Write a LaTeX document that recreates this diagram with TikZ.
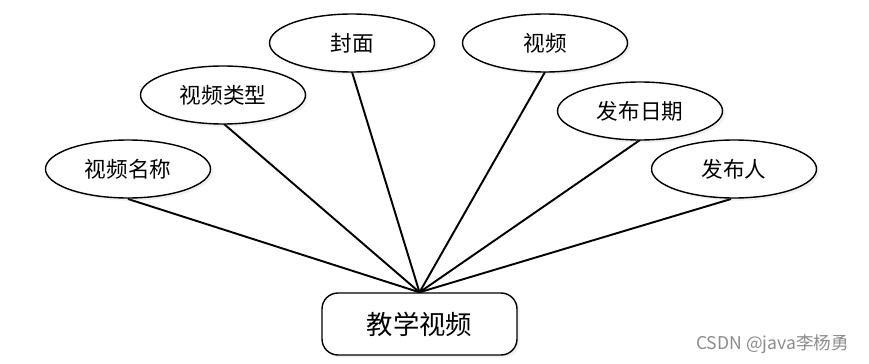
\documentclass[tikz,border=0pt]{standalone}
\usepackage{fontspec}
\setmainfont{Noto Sans CJK SC}
\usetikzlibrary{shapes.geometric, shadows, positioning}

\begin{document}
\begin{tikzpicture}[
    attr/.style={ellipse, draw=black, line width=0.8pt, fill=white, minimum width=3.3cm, minimum height=1.16cm, font=\fontsize{12.3}{13}\selectfont, drop shadow={opacity=0.12, shadow xshift=1.5pt, shadow yshift=-1.5pt}},
    entity/.style={rectangle, rounded corners=0.32cm, draw=black, line width=0.8pt, fill=white, minimum width=3.9cm, minimum height=1.24cm, font=\fontsize{15}{16}\selectfont, drop shadow={opacity=0.12, shadow xshift=1.5pt, shadow yshift=-1.5pt}},
    link/.style={line width=1.1pt, draw=black}
]
\useasboundingbox (0,0) rectangle (17.38,-7.28);

\node (entity) [entity] at (8.39,-6.48) {教学视频};

\draw [link] (2.56,-3.98) -- (entity.north);
\draw [link] (4.48,-2.48) -- (entity.north);
\draw [link] (7.04,-1.44) -- (entity.north);
\draw [link] (10.90,-1.44) -- (entity.north);
\draw [link] (12.80,-2.80) -- (entity.north);
\draw [link] (14.62,-3.98) -- (entity.north);

\node (name) [attr] at (2.56,-3.38) {视频名称};
\node (type) [attr] at (4.46,-1.90) {视频类型};
\node (cover) [attr] at (7.04,-0.86) {封面};
\node (video) [attr] at (10.90,-0.86) {视频};
\node (date) [attr] at (12.80,-2.22) {发布日期};
\node (author) [attr] at (14.68,-3.38) {发布人};

\node (mark) [text=black!45, font=\fontsize{10}{11}\selectfont, anchor=east] at (17.10,-6.88) {CSDN @java李杨勇};
\end{tikzpicture}
\end{document}
